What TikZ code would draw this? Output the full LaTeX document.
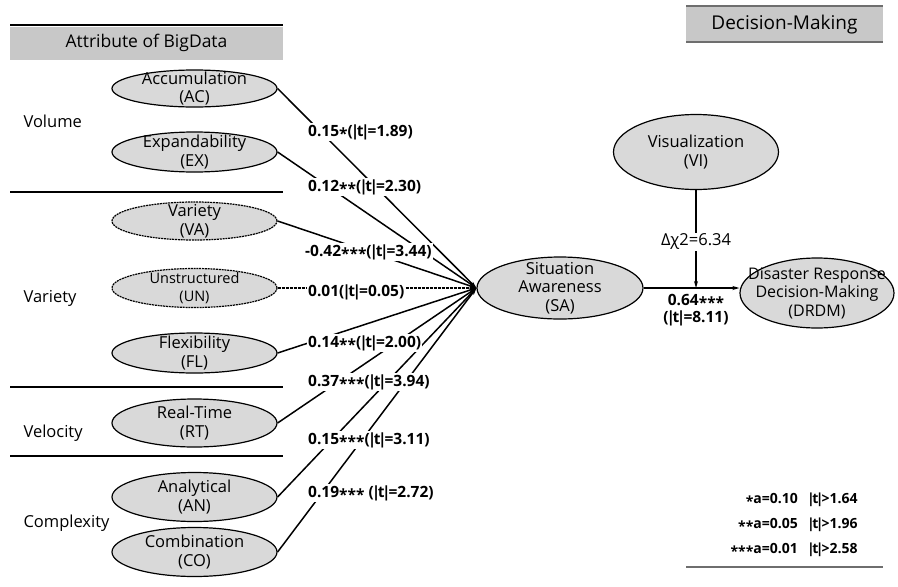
\documentclass[tikz,border=0pt]{standalone}
\usepackage{fontspec}
\setmainfont{Open Sans}
\usetikzlibrary{arrows.meta,shapes.geometric}
\definecolor{ellfill}{RGB}{217,217,217}
\definecolor{hdrfill}{RGB}{200,200,200}
\definecolor{hdrline}{RGB}{110,110,110}
\newcommand\sst{\raisebox{-0.35ex}{*}}
\newcommand\tvert{\kern-2pt|\kern-2.5pt t\kern-2.5pt|\kern-2pt}
\tikzset{
  cons/.style={ellipse, draw, line width=1.2pt, fill=ellfill, minimum width=165pt, minimum height=#1, inner sep=0pt},
  dcons/.style={cons=#1, dash pattern=on 2pt off 0.8pt},
  ctext/.style={align=center, font=\fontsize{16.5}{18.5}\selectfont},
  sect/.style={anchor=base west, font=\fontsize{16.5}{18}\selectfont},
  sep/.style={line width=2pt},
  pth/.style={line width=1.5pt, -{Stealth[length=7pt,width=4pt]}},
  lbl/.style={anchor=west, fill=white, inner sep=1pt, font=\bfseries\fontsize{15.5}{18}\selectfont},
  legt/.style={font=\bfseries\fontsize{14}{16}\selectfont, inner sep=0pt}
}
\begin{document}
\begin{tikzpicture}[x=1pt,y=-1pt]
\useasboundingbox (0,0) rectangle (898,587);
% left header
\fill[hdrfill] (10,27) rectangle (283,60);
\draw[sep] (10,25) -- (283,25);
\node[font=\fontsize{17.5}{19}\selectfont] (hleft) at (146.5,43) {Attribute of BigData};
% right header
\fill[hdrfill] (686,7) rectangle (883,41);
\draw[line width=2pt, hdrline] (686,6) -- (883,6);
\draw[line width=2pt, hdrline] (686,42) -- (883,42);
\node[font=\fontsize{19}{21}\selectfont] (hright) at (784.5,24.5) {Decision-Making};
% separators
\draw[sep] (10,192) -- (283,192);
\draw[sep] (10,387) -- (283,387);
\draw[sep] (10,456) -- (283,456);
% section labels
\node[sect] (svol) at (20,127) {Volume};
\node[sect] (svar) at (20,302) {Variety};
\node[sect] (svel) at (20,437) {Velocity};
\node[sect] (scom) at (20,527) {Complexity};
% constructs
\node[cons=37pt, label={[ctext]center:Accumulation\\(AC)}] (AC) at (194.5,88.5) {};
\node[cons=40pt, label={[ctext]center:Expandability\\(EX)}] (EX) at (194.5,152) {};
\node[dcons=38pt, label={[ctext]center:Variety\\(VA)}] (VA) at (194.5,221) {};
\node[dcons=39pt, label={[ctext,font=\fontsize{14.5}{18.5}\selectfont]center:Unstructured\\(UN)}] (UN) at (194.5,288) {};
\node[cons=40pt, label={[ctext]center:Flexibility\\(FL)}] (FL) at (194.5,353) {};
\node[cons=48pt, label={[ctext]center:Real-Time\\(RT)}] (RT) at (194.5,423) {};
\node[cons=49pt, label={[ctext]center:Analytical\\(AN)}] (AN) at (194.5,497) {};
\node[cons=49pt, label={[ctext]center:Combination\\(CO)}] (CO) at (194.5,552) {};
\node[cons=62pt, minimum width=166pt, label={[ctext]center:Situation\\Awareness\\(SA)}] (SA) at (560,288) {};
\node[cons=75pt, label={[ctext]center:Visualization\\(VI)}] (VI) at (696,152) {};
\node[cons=70pt, minimum width=154pt, label={[ctext,font=\fontsize{16}{18.5}\selectfont]center:Disaster Response\\Decision-Making\\(DRDM)}] (DRDM) at (817,293) {};
% paths
\draw[pth] (AC.east) -- (SA.west);
\draw[pth] (EX.east) -- (SA.west);
\draw[pth] (VA.east) -- (SA.west);
\draw[pth, dash pattern=on 3pt off 1pt] (UN.east) -- (SA.west);
\draw[pth] (FL.east) -- (SA.west);
\draw[pth] (RT.east) -- (SA.west);
\draw[pth] (AN.east) -- (SA.west);
\draw[pth] (CO.east) -- (SA.west);
\draw[pth] (SA.east) -- (SA.east -| DRDM.west);
\coordinate (mod) at (SA.east -| VI.south);
\draw[pth] (VI.south) -- (mod);
% path labels
\node[lbl] (lAC) at (307,132) {0.15\sst(\tvert=1.89)};
\node[lbl] (lEX) at (307,187) {0.12\sst\sst(\tvert=2.30)};
\node[lbl] (lVA) at (304,252) {-0.42\sst\sst\sst(\tvert=3.44)};
\node[lbl] (lUN) at (307,292) {0.01(\tvert=0.05)};
\node[lbl] (lFL) at (307,343) {0.14\sst\sst(\tvert=2.00)};
\node[lbl] (lRT) at (307,382) {0.37\sst\sst\sst(\tvert=3.94)};
\node[lbl] (lAN) at (307,440) {0.15\sst\sst\sst(\tvert=3.11)};
\node[lbl] (lCO) at (307,493) {0.19\sst\sst\sst{} (\tvert=2.72)};
\node[fill=white, inner sep=1pt, font=\fontsize{16.5}{18}\selectfont] (lVI) at (696,242) {Δχ2=6.34};
\node[align=center, font=\bfseries\fontsize{15.5}{17}\selectfont, inner sep=0pt] (lSA) at (696,310) {0.64\sst\sst\sst\\(\tvert=8.11)};
% legend
\node[legt, anchor=east] (g1a) at (798,500) {\sst a=0.10};
\node[legt, anchor=west] (g1b) at (809,500) {\tvert>1.64};
\node[legt, anchor=east] (g2a) at (798,525) {\sst\sst a=0.05};
\node[legt, anchor=west] (g2b) at (809,525) {\tvert>1.96};
\node[legt, anchor=east] (g3a) at (798,550) {\sst\sst\sst a=0.01};
\node[legt, anchor=west] (g3b) at (809,550) {\tvert>2.58};
\draw[line width=2.5pt, hdrline] (686,567) -- (883,567);
\end{tikzpicture}
\end{document}
